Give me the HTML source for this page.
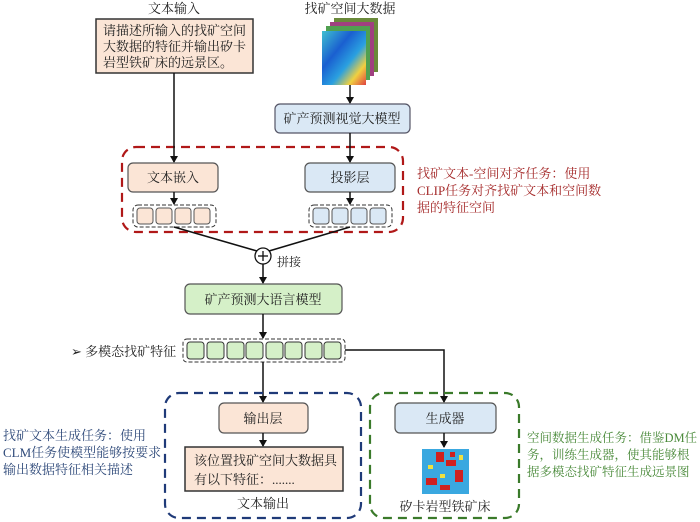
<!DOCTYPE html>
<html><head><meta charset="utf-8">
<style>
html,body{margin:0;padding:0;background:#fff;}
svg{display:block;}
text{font-family:"Liberation Serif","Noto Serif CJK SC","Noto Sans CJK SC",serif;}
</style></head><body>
<svg width="700" height="522" viewBox="0 0 700 522" xmlns="http://www.w3.org/2000/svg">
<defs>
<marker id="ar" markerWidth="8" markerHeight="8" refX="6" refY="4" orient="auto" markerUnits="userSpaceOnUse">
<path d="M0,0 L7,4 L0,8 z" fill="#111"/></marker>
<linearGradient id="g1" x1="0" y1="0" x2="1" y2="1">
<stop offset="0" stop-color="#3fc0d0"/><stop offset="0.35" stop-color="#1a5fd0"/><stop offset="0.6" stop-color="#2aa0e0"/><stop offset="0.8" stop-color="#f0d040"/><stop offset="1" stop-color="#e04040"/></linearGradient>
</defs>
<text x="174" y="13" font-size="13" text-anchor="middle" fill="#222">文本输入</text>
<text x="350" y="13" font-size="13" text-anchor="middle" fill="#222">找矿空间大数据</text>
<rect x="96" y="19" width="157" height="54" fill="#fbe5d6" stroke="#333" stroke-width="1.5"/>
<text font-size="13" fill="#222"><tspan x="103" y="35">请描述所输入的找矿空间</tspan><tspan x="103" y="51">大数据的特征并输出矽卡</tspan><tspan x="103" y="67">岩型铁矿床的远景区。</tspan></text>
<rect x="334" y="18" width="44" height="54" fill="#6a8a3a"/>
<rect x="330" y="22" width="44" height="54" fill="#a04080"/>
<rect x="326" y="26" width="44" height="54" fill="#50a050"/>
<rect x="322" y="31" width="44" height="54" fill="url(#g1)"/>
<line x1="350" y1="85" x2="350" y2="103" stroke="#111" stroke-width="1.5" marker-end="url(#ar)"/>
<rect x="275" y="104" width="135" height="29" rx="5" fill="#dae8f5" stroke="#556" stroke-width="1.2"/>
<text x="342" y="123" font-size="13" text-anchor="middle" fill="#222">矿产预测视觉大模型</text>
<rect x="122" y="147" width="281" height="85" rx="14" fill="none" stroke="#b01818" stroke-width="2.2" stroke-dasharray="9,6"/>
<line x1="174" y1="73" x2="174" y2="162" stroke="#111" stroke-width="1.5" marker-end="url(#ar)"/>
<line x1="350" y1="133" x2="350" y2="162" stroke="#111" stroke-width="1.5" marker-end="url(#ar)"/>
<rect x="128" y="163" width="90" height="29" rx="5" fill="#fbe5d6" stroke="#555" stroke-width="1.2"/>
<text x="173" y="182" font-size="13" text-anchor="middle" fill="#222">文本嵌入</text>
<rect x="305" y="163" width="90" height="29" rx="5" fill="#dae8f5" stroke="#555" stroke-width="1.2"/>
<text x="350" y="182" font-size="13" text-anchor="middle" fill="#222">投影层</text>
<line x1="174" y1="192" x2="174" y2="204" stroke="#111" stroke-width="1.5" marker-end="url(#ar)"/>
<line x1="350" y1="192" x2="350" y2="204" stroke="#111" stroke-width="1.5" marker-end="url(#ar)"/>
<rect x="133" y="205" width="83" height="22" rx="5" fill="none" stroke="#333" stroke-width="1" stroke-dasharray="4,2"/>
<rect x="309" y="205" width="83" height="22" rx="5" fill="none" stroke="#333" stroke-width="1" stroke-dasharray="4,2"/>
<g stroke="#555" stroke-width="1">
<rect x="137" y="208" width="16" height="16" rx="3" fill="#fbe5d6"/>
<rect x="156" y="208" width="16" height="16" rx="3" fill="#fbe5d6"/>
<rect x="175" y="208" width="16" height="16" rx="3" fill="#fbe5d6"/>
<rect x="194" y="208" width="16" height="16" rx="3" fill="#fbe5d6"/>
<rect x="313" y="208" width="16" height="16" rx="3" fill="#dae8f5"/>
<rect x="332" y="208" width="16" height="16" rx="3" fill="#dae8f5"/>
<rect x="351" y="208" width="16" height="16" rx="3" fill="#dae8f5"/>
<rect x="370" y="208" width="16" height="16" rx="3" fill="#dae8f5"/>
</g>
<text font-size="13" fill="#a52a2a"><tspan x="417" y="178">找矿文本-空间对齐任务：使用</tspan><tspan x="417" y="195">CLIP任务对齐找矿文本和空间数</tspan><tspan x="417" y="212">据的特征空间</tspan></text>
<line x1="174" y1="227" x2="257" y2="251" stroke="#111" stroke-width="1.5"/>
<line x1="350" y1="227" x2="269" y2="251" stroke="#111" stroke-width="1.5"/>
<circle cx="263" cy="256" r="8" fill="#fff" stroke="#111" stroke-width="1.3"/>
<line x1="258" y1="256" x2="268" y2="256" stroke="#111" stroke-width="1.3"/>
<line x1="263" y1="251" x2="263" y2="261" stroke="#111" stroke-width="1.3"/>
<text x="277" y="266" font-size="12" fill="#222">拼接</text>
<line x1="263" y1="264" x2="263" y2="283" stroke="#111" stroke-width="1.5" marker-end="url(#ar)"/>
<rect x="185" y="284" width="157" height="30" rx="5" fill="#d5f0c8" stroke="#555" stroke-width="1.2"/>
<text x="263" y="304" font-size="13" text-anchor="middle" fill="#222">矿产预测大语言模型</text>
<line x1="263" y1="314" x2="263" y2="338" stroke="#111" stroke-width="1.5" marker-end="url(#ar)"/>
<text x="71" y="356" font-size="13" fill="#222">➢ 多模态找矿特征</text>
<rect x="183" y="339" width="162" height="23" rx="4" fill="none" stroke="#333" stroke-width="1" stroke-dasharray="4,2"/>
<g stroke="#333" stroke-width="1" fill="#d5f0c8">
<rect x="187" y="342" width="17" height="17" rx="3"/>
<rect x="207" y="342" width="17" height="17" rx="3"/>
<rect x="227" y="342" width="17" height="17" rx="3"/>
<rect x="246" y="342" width="17" height="17" rx="3"/>
<rect x="266" y="342" width="17" height="17" rx="3"/>
<rect x="285" y="342" width="17" height="17" rx="3"/>
<rect x="305" y="342" width="17" height="17" rx="3"/>
<rect x="324" y="342" width="17" height="17" rx="3"/>
</g>
<line x1="263" y1="362" x2="263" y2="402" stroke="#111" stroke-width="1.5" marker-end="url(#ar)"/>
<polyline points="345,350 444,350 444,402" fill="none" stroke="#111" stroke-width="1.5" marker-end="url(#ar)"/>
<rect x="165" y="393" width="196" height="125" rx="14" fill="none" stroke="#1f3a78" stroke-width="2.2" stroke-dasharray="9,6"/>
<rect x="370" y="393" width="149" height="125" rx="14" fill="none" stroke="#3a7a2a" stroke-width="2.2" stroke-dasharray="9,6"/>
<rect x="219" y="403" width="89" height="30" rx="5" fill="#fbe5d6" stroke="#555" stroke-width="1.2"/>
<text x="263" y="423" font-size="13" text-anchor="middle" fill="#222">输出层</text>
<line x1="263" y1="433" x2="263" y2="446" stroke="#111" stroke-width="1.5" marker-end="url(#ar)"/>
<rect x="185" y="447" width="158" height="44" fill="#fbe5d6" stroke="#333" stroke-width="1.5"/>
<text font-size="13" fill="#222"><tspan x="194" y="465">该位置找矿空间大数据具</tspan><tspan x="194" y="484">有以下特征：.......</tspan></text>
<text x="263" y="508" font-size="13" text-anchor="middle" fill="#222">文本输出</text>
<rect x="395" y="403" width="101" height="30" rx="5" fill="#dae8f5" stroke="#555" stroke-width="1.2"/>
<text x="445" y="423" font-size="13" text-anchor="middle" fill="#222">生成器</text>
<line x1="444" y1="433" x2="444" y2="447" stroke="#111" stroke-width="1.5" marker-end="url(#ar)"/>
<rect x="422" y="449" width="47" height="45" fill="#3aa8e0"/>
<g fill="#d02020"><rect x="436" y="452" width="8" height="10"/><rect x="446" y="460" width="10" height="6"/><rect x="426" y="478" width="11" height="7"/><rect x="455" y="470" width="8" height="12"/><rect x="440" y="485" width="10" height="5"/><rect x="450" y="452" width="5" height="5"/></g>
<g fill="#f0e040"><rect x="428" y="465" width="5" height="4"/><rect x="459" y="455" width="4" height="5"/><rect x="440" y="474" width="5" height="4"/></g>
<text x="445" y="511" font-size="13" text-anchor="middle" fill="#222">矽卡岩型铁矿床</text>
<text font-size="13" fill="#2f4a7a"><tspan x="3" y="440">找矿文本生成任务：使用</tspan><tspan x="3" y="457">CLM任务使模型能够按要求</tspan><tspan x="3" y="474">输出数据特征相关描述</tspan></text>
<text font-size="12.5" fill="#4a8a3a"><tspan x="527" y="442">空间数据生成任务：借鉴DM任</tspan><tspan x="527" y="459">务，训练生成器，使其能够根</tspan><tspan x="527" y="476">据多模态找矿特征生成远景图</tspan></text>
</svg>
</body></html>
